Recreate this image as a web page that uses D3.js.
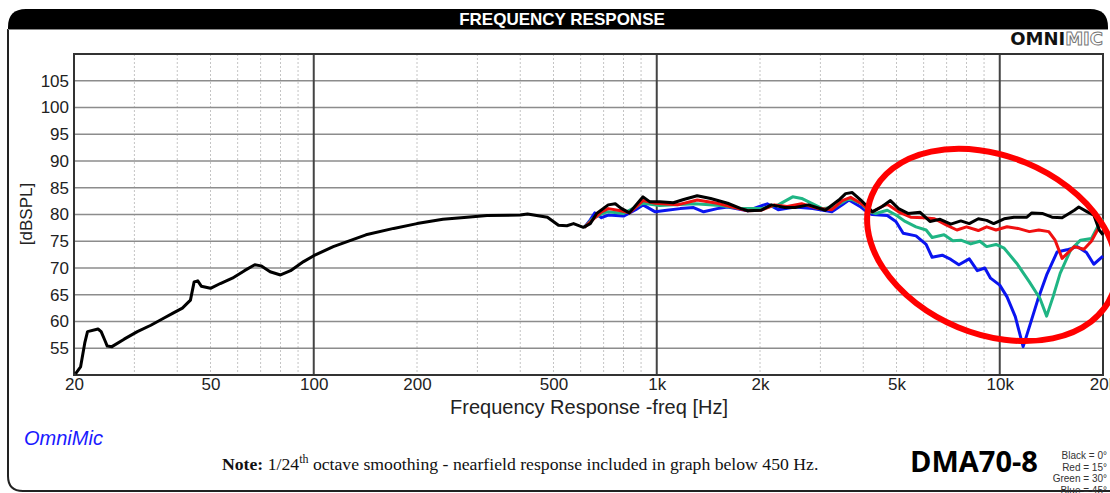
<!DOCTYPE html>
<html>
<head>
<meta charset="utf-8">
<script src="https://cdn.jsdelivr.net/npm/d3@7"></script>
<style>
body{margin:0;background:#fff;}
svg{display:block;}
</style>
</head>
<body>
<div id="chart"></div>
<script>
// tick labels
var xTicks = [20, 50, 100, 200, 500, 1000, 2000, 5000, 10000, 20000];
var xTickLabels = ["20", "50", "100", "200", "500", "1k", "2k", "5k", "10k", "20k"];
var yTicks = [55, 60, 65, 70, 75, 80, 85, 90, 95, 100, 105];
var majorX = [100, 1000, 10000];

// series: [freq Hz, dBSPL]
var black = [[20.2,50.2],[20.9,51.5],[21.5,56],[21.9,58.1],[23.5,58.6],[24.0,58.1],[24.6,56.5],[25.0,55.4],[25.8,55.3],[28.0,56.7],[30.6,58.1],[33.5,59.3],[36.5,60.6],[39,61.6],[41.4,62.5],[43.7,64.0],[44.8,67.4],[45.9,67.6],[47.0,66.6],[50,66.2],[53.4,67.1],[57.9,68.1],[62.8,69.5],[67.3,70.6],[70.2,70.4],[74.6,69.3],[80,68.7],[85.6,69.5],[93.4,71.2],[100,72.3],[114,74.0],[142,76.2],[171,77.4],[200,78.3],[238,79.1],[280,79.5],[320,79.8],[400,79.9],[420,80.1],[480,79.5],[517,78.0],[547,77.9],[572,78.3],[611,77.6],[640,78.3],[668,80.2],[722,81.8],[757,82.0],[786,81.2],[832,80.3],[912,83.3],[953,82.4],[1020,82.4],[1118,82.2],[1198,82.8],[1312,83.5],[1436,83.0],[1609,82.1],[1761,81.1],[1842,80.7],[2016,80.8],[2158,81.8],[2363,81.3],[2530,81.3],[2769,81.8],[3100,80.8],[3396,82.7],[3553,83.9],[3716,84.1],[3935,82.7],[4167,81.1],[4250,80.5],[4540,81.5],[4800,82.6],[5070,81.1],[5400,80.2],[5860,80.4],[6260,78.7],[6700,79.1],[7200,78.2],[7700,78.8],[8150,78.3],[8660,79.2],[9160,78.9],[9600,78.3],[10300,79.2],[11000,79.5],[12000,79.5],[12400,80.3],[13300,80.2],[14200,79.5],[15200,79.4],[16500,80.8],[17000,81.4],[18000,80.5],[18800,79.9],[19500,77.1],[20000,76.2]];
var red = [[615,77.6],[650,79],[690,80.5],[722,81.1],[786,80.7],[832,80.3],[912,82.6],[990,82.1],[1150,81.8],[1312,82.7],[1500,82.1],[1684,81.3],[1842,80.7],[2016,80.8],[2206,81.8],[2400,81.5],[2645,82.0],[2964,81.1],[3240,80.9],[3474,82.6],[3675,83.2],[3935,82.1],[4167,80.9],[4250,80.5],[4540,81.5],[4700,81.9],[5070,80.5],[5500,79.5],[6000,79.4],[6450,79.2],[7000,78.0],[7500,77.1],[8000,77.7],[8660,77.0],[9160,77.7],[9750,77.1],[10500,77.7],[11300,77.4],[12200,76.8],[13000,77.1],[13900,76.8],[14500,75.2],[15200,71.8],[16500,74.0],[17600,73.5],[18500,75.0],[19500,77.7],[20000,78.6]];
var green = [[615,77.6],[650,79.2],[700,80.3],[722,80.5],[800,80.2],[912,82.1],[1020,81.7],[1290,82.0],[1530,81.7],[1761,81.1],[2016,81.1],[2260,81.8],[2490,83.3],[2645,83.0],[3040,81.1],[3300,81.4],[3633,83.0],[3935,82.1],[4167,80.5],[4350,80.2],[4700,80.8],[4980,79.9],[5300,78.7],[5700,77.7],[6100,77.1],[6350,75.7],[6880,76.2],[7300,75.1],[7700,75.2],[8230,74.5],[8750,75.0],[9160,74.0],[9750,74.4],[10300,73.7],[11200,70.9],[12200,67.4],[13100,64.3],[13700,61.0],[14300,64.6],[15000,69.0],[16100,73.4],[17200,75.2],[18500,75.5],[19500,78.3],[20000,79.2]];
var blue = [[615,77.6],[640,79.0],[660,80.3],[690,79.4],[722,79.9],[800,79.7],[868,80.9],[912,81.8],[990,80.5],[1070,80.8],[1170,81.1],[1280,81.3],[1370,80.5],[1500,81.1],[1610,81.4],[1842,80.7],[2100,82.0],[2260,80.9],[2530,81.4],[2850,81.1],[3240,80.5],[3474,81.8],[3633,82.7],[3935,81.4],[4167,80.2],[4250,80.0],[4700,79.8],[4980,78.7],[5230,76.5],[5700,76.0],[6100,74.4],[6350,72.0],[6800,72.4],[7200,71.6],[7600,70.6],[8150,71.7],[8600,69.5],[9050,70.0],[9400,68.1],[10000,66.8],[10500,64.6],[11100,60.9],[11700,55.3],[12200,59.0],[12900,64.0],[13700,68.7],[14700,73.0],[15700,73.4],[16800,74.0],[17900,72.9],[18800,70.7],[20000,72.2]];

var seriesColors = ["#0a14f0", "#1fb584", "#f01010", "#000000"];
var legendText = ["Black = 0°", "Red = 15°", "Green = 30°", "Blue = 45°"];
// centre of the red circle marking (freq, dB)
var markCenter = [9490, 74.3];

var w = 1110, h = 493;
var plotLeft = 74, plotRight = 1103, plotTop = 54, plotBottom = 375;
var sans = "'Liberation Sans', Arial, sans-serif";

var scaleX = d3.scaleLog().domain([20, 20000]).range([plotLeft, plotRight]);
var scaleY = d3.scaleLinear().domain([50, 110]).range([plotBottom, plotTop]);

var canvas = d3.select("#chart").append("svg")
  .attr("width", w)
  .attr("height", h);

// frame and header bar
canvas.append("path")
  .attr("d", "M8,29 V476 Q8,491 23,491 H1110")
  .attr("fill", "none")
  .attr("stroke", "#222")
  .attr("stroke-width", 2);
canvas.append("path")
  .attr("d", "M8,29 V27 Q8,9 26,9 H1090 Q1108,9 1108,27 V29 Z")
  .attr("fill", "#000");
canvas.append("line")
  .attr("x1", 8).attr("x2", 1108).attr("y1", 29.5).attr("y2", 29.5)
  .attr("stroke", "#888").attr("stroke-width", 1);
canvas.append("text")
  .attr("x", 562).attr("y", 25)
  .attr("text-anchor", "middle")
  .attr("fill", "#fff")
  .style("font", "bold 17px " + sans)
  .text("FREQUENCY RESPONSE");

// OMNIMIC logo
var logo = canvas.append("text")
  .attr("x", 1103).attr("y", 45)
  .attr("text-anchor", "end")
  .style("font", "900 18px 'DejaVu Sans', sans-serif");
logo.append("tspan").attr("fill", "#111").text("OMNI");
logo.append("tspan").attr("fill", "#fff").attr("stroke", "#777").attr("stroke-width", 1).text("MIC");

// minor grid
var minor = scaleX.ticks().filter(function(d){ return d > 20 && d < 20000 && majorX.indexOf(d) < 0; });
canvas.append("g").selectAll("line")
  .data(minor)
  .enter().append("line")
  .attr("x1", function(d){ return scaleX(d); })
  .attr("x2", function(d){ return scaleX(d); })
  .attr("y1", plotTop).attr("y2", plotBottom)
  .attr("stroke", "#c4c4c4")
  .attr("stroke-width", 1)
  .attr("stroke-dasharray", "2,2");

// horizontal grid
canvas.append("g").selectAll("line")
  .data(yTicks)
  .enter().append("line")
  .attr("x1", plotLeft).attr("x2", plotRight)
  .attr("y1", function(d){ return scaleY(d); })
  .attr("y2", function(d){ return scaleY(d); })
  .attr("stroke", "#8c8c8c")
  .attr("stroke-width", 1.6);

// decade lines
canvas.append("g").selectAll("line")
  .data(majorX)
  .enter().append("line")
  .attr("x1", function(d){ return scaleX(d); })
  .attr("x2", function(d){ return scaleX(d); })
  .attr("y1", plotTop).attr("y2", plotBottom)
  .attr("stroke", "#444")
  .attr("stroke-width", 2);

canvas.append("rect")
  .attr("x", plotLeft).attr("y", plotTop)
  .attr("width", plotRight - plotLeft).attr("height", plotBottom - plotTop)
  .attr("fill", "none")
  .attr("stroke", "#333")
  .attr("stroke-width", 2);

// axes
var yAxis = d3.axisLeft(scaleY).tickValues(yTicks).tickSize(0).tickPadding(5);
var gy = canvas.append("g").attr("transform", "translate(" + plotLeft + ",0)").call(yAxis);
var xAxis = d3.axisBottom(scaleX).tickValues(xTicks).tickSize(0).tickPadding(3)
  .tickFormat(function(d, i){ return xTickLabels[i]; });
var gx = canvas.append("g").attr("transform", "translate(0," + plotBottom + ")").call(xAxis);
[gx, gy].forEach(function(g){
  g.select(".domain").remove();
  g.selectAll("text").attr("fill", "#222").style("font", "17px " + sans);
});

canvas.append("text")
  .attr("transform", "translate(32,214) rotate(-90)")
  .attr("text-anchor", "middle")
  .attr("fill", "#222")
  .style("font", "17px " + sans)
  .text("[dBSPL]");
canvas.append("text")
  .attr("x", 589).attr("y", 414)
  .attr("text-anchor", "middle")
  .attr("fill", "#222")
  .style("font", "20px " + sans)
  .text("Frequency Response -freq [Hz]");

// curves
var line = d3.line()
  .x(function(d){ return scaleX(d[0]); })
  .y(function(d){ return scaleY(d[1]); });
[blue, green, red, black].forEach(function(s, i){
  canvas.append("path")
    .attr("d", line(s))
    .attr("fill", "none")
    .attr("stroke", seriesColors[i])
    .attr("stroke-width", 3)
    .attr("stroke-linejoin", "round");
});

// red marking
canvas.append("ellipse")
  .attr("transform", "translate(" + scaleX(markCenter[0]) + "," + scaleY(markCenter[1]) + ") rotate(22.5)")
  .attr("rx", 130).attr("ry", 89)
  .attr("fill", "none")
  .attr("stroke", "#f00")
  .attr("stroke-width", 6);

// footer
canvas.append("text")
  .attr("x", 24).attr("y", 445)
  .attr("fill", "#1a1aff")
  .style("font", "italic 20px " + sans)
  .text("OmniMic");

var note = canvas.append("text")
  .attr("x", 222).attr("y", 470)
  .attr("fill", "#111")
  .style("font", "17.7px 'Liberation Serif', 'Times New Roman', serif");
note.append("tspan").style("font-weight", "bold").text("Note: ");
note.append("tspan").text("1/24");
note.append("tspan").attr("dy", -7).style("font-size", "12px").text("th");
note.append("tspan").attr("dy", 7).text(" octave smoothing - nearfield response included in graph below 450 Hz.");

canvas.append("text")
  .attr("x", 910).attr("y", 472)
  .attr("fill", "#000")
  .style("font", "bold 29px 'Open Sans', sans-serif")
  .text("DMA70-8");

canvas.append("g").selectAll("text")
  .data(legendText)
  .enter().append("text")
  .attr("x", 1107)
  .attr("y", function(d, i){ return 459 + i * 11.5; })
  .attr("text-anchor", "end")
  .attr("fill", "#333")
  .style("font", "10px " + sans)
  .text(function(d){ return d; });
</script>
</body>
</html>
